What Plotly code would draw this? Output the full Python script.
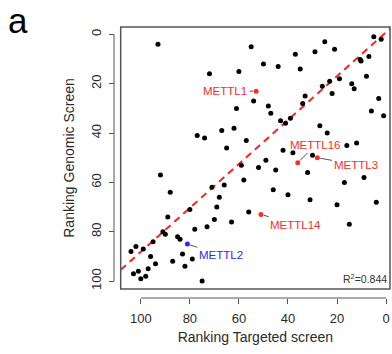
import plotly.graph_objects as go

# Black points: (targeted rank, genomic rank)
targeted = [93, 72, 77, 74, 55, 37, 50, 44, 60, 35, 54, 61, 48, 47, 33, 34, 39, 43, 41, 67,
            62, 57, 65, 42, 38, 49, 25, 5, 2, 29, 21, 7, 10.6, 10.2, 8, 19, 23, 26, 14, 13,
            22, 3, 6, 1, 27, 24, 16, 12, 30, 59, 52, 45, 58, 66, 71, 46, 40, 68, 69, 56,
            70, 63, 32, 17, 9, 31, 20, 4, 15, 92, 88, 80, 89, 78, 73, 91, 90, 85, 84, 95,
            102, 99, 104, 83, 96, 79, 87, 94, 82, 97, 103, 101, 98, 100, 75]
genomic = [4, 16, 41, 42, 5, 8, 12, 13, 15, 14, 27, 30, 29, 32, 25, 28, 34, 35, 36, 39,
           38, 43, 46, 47, 48, 51, 3, 1, 2, 7, 6, 9, 10.2, 10.8, 17, 18, 19, 21, 20, 22,
           24, 26, 31, 33, 37, 40, 45, 44, 49, 53, 54, 55, 59, 61, 62, 63, 65, 66, 70, 72,
           75, 76, 56, 60, 58, 67, 69, 68, 77, 57, 64, 71, 74, 79, 78, 80, 81, 82, 83, 84,
           86, 87, 88, 89, 90, 91, 92, 93, 94, 95, 97, 96, 98, 99, 100]

# Highlighted genes
hl_names = ["METTL1", "METTL16", "METTL3", "METTL14", "METTL2"]
hl_targeted = [53, 36, 28, 51, 81]
hl_genomic = [23, 52, 50, 73, 85]
hl_colors = ["#ff2a2a", "#ff2a2a", "#ff2a2a", "#ff2a2a", "#2a2aff"]

fit_slope = 0.89
fit_intercept = -0.87
r2_text = "R<sup>2</sup>=0.844"

tick_vals = [0, 20, 40, 60, 80, 100]
x_range = [108.2, -1.6]
y_range = [103.2, -3.0]

FONT = "Liberation Sans, Arial, Helvetica, sans-serif"
AX = "#555555"
TXT = "#2a2a2a"

fig = go.Figure()

fit_x = list(x_range)
fit_y = [fit_intercept + fit_slope * v for v in fit_x]
fig.add_trace(go.Scatter(x=fit_x, y=fit_y, mode="lines",
                         line=dict(color="#ff2020", width=2, dash="7px,5px"),
                         hoverinfo="skip", showlegend=False))

fig.add_trace(go.Scatter(x=targeted, y=genomic, mode="markers",
                         marker=dict(color="black", size=5),
                         showlegend=False))

fig.add_trace(go.Scatter(x=hl_targeted, y=hl_genomic, mode="markers",
                         marker=dict(color=hl_colors, size=5),
                         showlegend=False))

# label offsets in pixels (text centre relative to point)
offsets = [(-31, 0), (18, -18), (39, 7), (35, 10), (34, 11)]
for name, xv, yv, col, (axp, ayp) in zip(hl_names, hl_targeted, hl_genomic, hl_colors, offsets):
    fig.add_annotation(x=xv, y=yv, xref="x", yref="y", text=name,
                       showarrow=True, arrowhead=0, arrowwidth=1, arrowcolor="#555555",
                       ax=axp, ay=ayp, standoff=3, startstandoff=1,
                       font=dict(family=FONT, size=11.5, color=col))

fig.add_annotation(x=1, y=0, xref="x domain", yref="y domain", text=r2_text,
                   showarrow=False, xanchor="right", yanchor="bottom",
                   xshift=-1, yshift=2,
                   font=dict(family=FONT, size=10.5, color="#333333"))

fig.add_annotation(x=0, y=1, xref="paper", yref="paper", text="a",
                   showarrow=False, xanchor="left", yanchor="top",
                   xshift=-107, yshift=27, borderpad=0,
                   font=dict(family="Liberation Sans, Arial, sans-serif", size=35, color="black"))

# plot box
fig.add_shape(type="rect", xref="x domain", yref="y domain", x0=0, x1=1, y0=0, y1=1,
              line=dict(color=AX, width=1.5), layer="above")
# detached axis lines (R style)
fig.add_shape(type="line", xref="x", yref="paper", x0=tick_vals[-1], x1=tick_vals[0], y0=0, y1=0,
              line=dict(color=AX, width=1))
fig.add_shape(type="line", xref="paper", yref="y", x0=0, x1=0, y0=tick_vals[0], y1=tick_vals[-1],
              line=dict(color=AX, width=1))

W, H = 392, 354
ml, mr, mt, mb = 114, 2, 27, 56
pw = W - ml - mr
ph = H - mt - mb

fig.update_layout(
    width=W, height=H,
    margin=dict(l=ml, r=mr, t=mt, b=mb),
    paper_bgcolor="white", plot_bgcolor="white",
    font=dict(family=FONT, color=TXT),
    xaxis=dict(range=x_range, domain=[6.7 / pw, 1], anchor="free", position=0,
               tickvals=tick_vals, ticks="outside", ticklen=5, tickcolor=AX, tickwidth=1,
               ticklabelstandoff=3,
               showgrid=False, zeroline=False, showline=False,
               tickfont=dict(size=13, color=TXT),
               title=dict(text="Ranking Targeted screen", font=dict(size=14, color=TXT), standoff=7)),
    yaxis=dict(range=y_range, domain=[9 / ph, 1], anchor="free", position=0,
               tickvals=tick_vals, ticks="outside", ticklen=5, tickcolor=AX, tickwidth=1,
               tickangle=-90, ticklabelstandoff=3,
               showgrid=False, zeroline=False, showline=False,
               tickfont=dict(size=13, color=TXT),
               title=dict(text="Ranking Genomic Screen", font=dict(size=14, color=TXT), standoff=9)),
)

fig.write_html("out.html")
